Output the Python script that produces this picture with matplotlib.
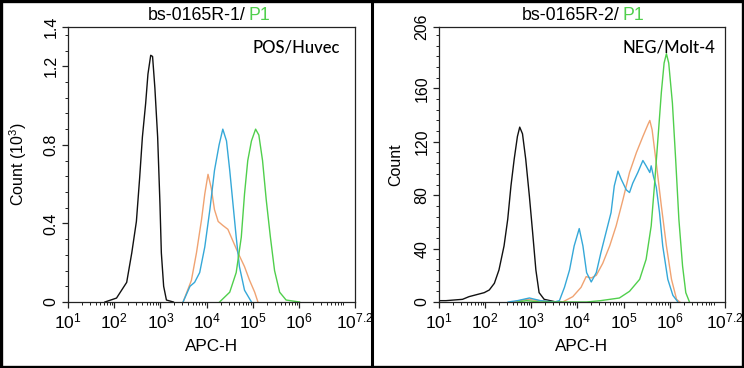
import numpy as np
import matplotlib
matplotlib.use('Agg')
import matplotlib.pyplot as plt
from matplotlib import font_manager
from matplotlib.ticker import FixedLocator, NullFormatter, LogLocator
from matplotlib.patches import Rectangle

plt.rcParams['font.family'] = ['Liberation Sans', 'DejaVu Sans']
plt.rcParams['mathtext.fontset'] = 'custom'
plt.rcParams['mathtext.rm'] = 'Liberation Sans'
plt.rcParams['mathtext.default'] = 'regular'

# x values are log10(APC-H)
# left panel: bs-0165R-1, counts in 10^3
black_l_x = [1.80, 2.05, 2.27, 2.38, 2.48, 2.55, 2.61, 2.68, 2.73, 2.79, 2.83, 2.88, 2.94, 2.99, 3.02, 3.07, 3.13, 3.28]
black_l_y = [0, 0.02, 0.10, 0.25, 0.41, 0.63, 0.84, 1.01, 1.16, 1.256, 1.25, 1.09, 0.84, 0.50, 0.25, 0.08, 0.01, 0]
orange_l_x = [3.49, 3.67, 3.78, 3.89, 3.96, 4.03, 4.10, 4.17, 4.25, 4.35, 4.46, 4.57, 4.68, 4.82, 4.93, 5.04, 5.11]
orange_l_y = [0, 0.11, 0.25, 0.42, 0.55, 0.65, 0.58, 0.47, 0.41, 0.39, 0.37, 0.31, 0.25, 0.18, 0.11, 0.05, 0]
blue_l_x = [3.49, 3.64, 3.74, 3.85, 3.96, 4.07, 4.17, 4.27, 4.35, 4.43, 4.50, 4.57, 4.64, 4.71, 4.82, 4.97]
blue_l_y = [0, 0.08, 0.10, 0.15, 0.28, 0.47, 0.67, 0.80, 0.88, 0.82, 0.67, 0.50, 0.33, 0.18, 0.06, 0]
green_l_x = [4.28, 4.50, 4.64, 4.75, 4.82, 4.89, 4.97, 5.06, 5.13, 5.21, 5.29, 5.38, 5.47, 5.58, 5.72, 6.01]
green_l_y = [0, 0.05, 0.15, 0.33, 0.55, 0.72, 0.82, 0.88, 0.85, 0.72, 0.52, 0.33, 0.16, 0.05, 0.01, 0]

# right panel: bs-0165R-2, counts
black_r_x = [1.0, 1.15, 1.51, 1.65, 1.87, 1.98, 2.09, 2.2, 2.3, 2.41, 2.49, 2.56, 2.63, 2.70, 2.75, 2.81,
             2.88, 2.96, 3.03, 3.10, 3.17, 3.28, 3.54, 3.65]
black_r_y = [1, 1, 2, 4, 6, 7, 9, 14, 24, 42, 62, 87, 107, 124, 131, 126, 107, 79, 52, 24, 7, 2, 0, 0]
blue_r_x = [2.5, 2.70, 2.96, 3.2, 3.50, 3.61, 3.72, 3.83, 3.93, 4.04, 4.12, 4.20, 4.30, 4.41, 4.51, 4.62,
            4.73, 4.80, 4.88, 4.95, 5.06, 5.13, 5.20, 5.31, 5.42, 5.49, 5.57, 5.60, 5.65, 5.71, 5.78,
            5.85, 5.96, 6.07, 6.18]
blue_r_y = [0, 1, 3, 1, 0, 1, 11, 24, 42, 55, 42, 22, 15, 22, 37, 52, 67, 87, 98, 92, 84, 82, 89, 97,
            106, 102, 97, 102, 94, 86, 67, 42, 17, 5, 0]
orange_r_x = [2.6, 2.9, 3.2, 3.45, 3.68, 3.90, 4.08, 4.19, 4.30, 4.41, 4.55, 4.70, 4.84, 4.99, 5.13, 5.28,
              5.42, 5.53, 5.57, 5.62, 5.71, 5.82, 5.93, 6.04, 6.15, 6.22]
orange_r_y = [0, 2, 1, 0, 0, 4, 11, 19, 18, 20, 29, 42, 57, 77, 97, 112, 124, 133, 136, 129, 104, 72,
              42, 17, 2, 0]
green_r_x = [2.7, 2.9, 3.2, 3.6, 4.2, 4.5, 4.91, 5.13, 5.35, 5.49, 5.60, 5.67, 5.75, 5.82, 5.88, 5.93,
             5.98, 6.06, 6.13, 6.20, 6.28, 6.35, 6.43]
green_r_y = [0, 1, 0, 0, 0, 1, 3, 8, 17, 32, 57, 87, 124, 157, 179, 186, 179, 149, 107, 62, 27, 7, 0]

x_exps = [1, 2, 3, 4, 5, 6, 7.2]
x_labels = ['$10^{1}$', '$10^{2}$', '$10^{3}$', '$10^{4}$', '$10^{5}$', '$10^{6}$', '$10^{7.2}$']
yticks_l = [0, 0.4, 0.8, 1.2, 1.4]
yticks_r = [0, 40, 80, 120, 160, 206]

c_black = '#111111'
c_orange = '#f0a372'
c_blue = '#35a8d8'
c_green = '#50cf4c'

# rotated labels in the source look squeezed, a narrow face matches better
names = {f.name for f in font_manager.fontManager.ttflist}
if 'Liberation Sans Narrow' in names:
    narrow, ytick_size, ylab_size = 'Liberation Sans Narrow', 13, 13.5
else:
    narrow, ytick_size, ylab_size = 'Liberation Sans', 11.5, 11.5

fig = plt.figure(figsize=(7.44, 3.68), dpi=100)
W, H = 744, 368
ax1 = fig.add_axes([68 / W, 66 / H, 286.5 / W, 275 / H])
ax2 = fig.add_axes([439 / W, 66 / H, 286 / W, 275 / H])

panels = [
    (ax1, [(black_l_x, black_l_y, c_black), (orange_l_x, orange_l_y, c_orange),
           (blue_l_x, blue_l_y, c_blue), (green_l_x, green_l_y, c_green)],
     yticks_l, 1.4, 0.08, 'Count (10$^{3}$)', 'POS/Huvec', 0.95, 10),
    (ax2, [(black_r_x, black_r_y, c_black), (orange_r_x, orange_r_y, c_orange),
           (blue_r_x, blue_r_y, c_blue), (green_r_x, green_r_y, c_green)],
     yticks_r, 206, 8, 'Count', 'NEG/Molt-4', 0.965, 8),
]

for ax, curves, yt, ymax, ystep, ylab, note, note_x, lpad in panels:
    for xs, ys, col in curves:
        ax.plot(np.power(10.0, xs), ys, color=col, lw=1.0)
    ax.set_xscale('log')
    ax.set_xlim(10, 10 ** 7.2)
    ax.set_ylim(0, ymax)
    ax.xaxis.set_major_locator(FixedLocator(np.power(10.0, x_exps)))
    ax.set_xticklabels(x_labels, fontsize=12.5)
    ax.xaxis.set_minor_locator(LogLocator(base=10, subs=np.arange(2, 10), numticks=20))
    ax.xaxis.set_minor_formatter(NullFormatter())
    ax.set_yticks(yt)
    ax.set_yticklabels([f'{v:g}' for v in yt], family=[narrow, 'DejaVu Sans'],
                       fontsize=ytick_size, rotation=90, va='center')
    ax.yaxis.set_minor_locator(FixedLocator(np.arange(0, ymax, ystep)))
    ax.tick_params(axis='both', which='major', direction='out', length=4, width=0.9, color='#222222')
    ax.tick_params(axis='both', which='minor', direction='out', length=2, width=0.7, color='#222222')
    ax.tick_params(axis='y', pad=3)
    ax.tick_params(axis='x', pad=3)
    for s in ax.spines.values():
        s.set_linewidth(0.9)
        s.set_color('#222222')
    ax.set_xlabel('APC-H', fontsize=12.3, labelpad=5)
    ax.set_ylabel(ylab, fontsize=ylab_size, labelpad=lpad, family=[narrow, 'DejaVu Sans'])
    ax.text(note_x, 0.924, note, transform=ax.transAxes, ha='right', va='center',
            fontsize=12, family=['Lato', 'DejaVu Sans'], weight='medium')

# two-colour titles
for xr, name in [(246, 'bs-0165R-1/'), (620, 'bs-0165R-2/')]:
    fig.text(xr / W, 1 - 15 / H, name, ha='right', va='center', fontsize=12.8)
    fig.text((xr + 3) / W, 1 - 15 / H, 'P1', ha='left', va='center', fontsize=12.8, color=c_green)

# outer frame and separator
fig.patches.append(Rectangle((0.002, 0.003), 0.996, 0.994, transform=fig.transFigure,
                             fill=False, lw=2.4, edgecolor='black'))
fig.add_artist(plt.Line2D([372 / W, 372 / W], [0, 1], transform=fig.transFigure, color='black', lw=2.2))

fig.savefig('out.png', dpi=100)
